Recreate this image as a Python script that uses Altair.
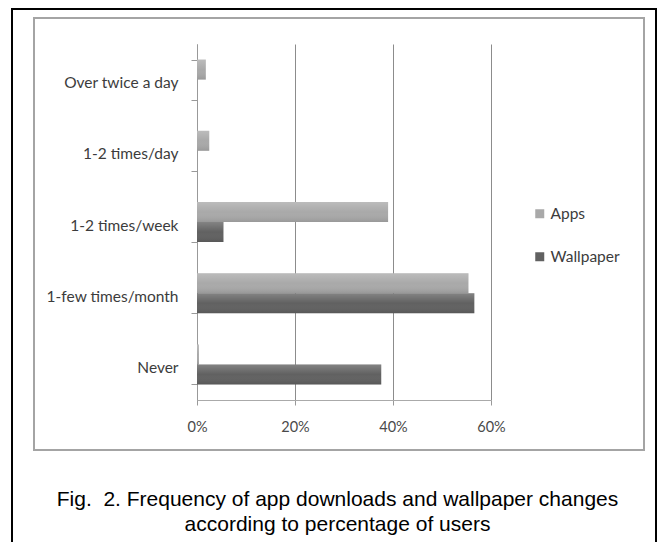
import altair as alt
import pandas as pd

categories = ["Over twice a day", "1-2 times/day", "1-2 times/week", "1-few times/month", "Never"]
series = ["Apps", "Wallpaper"]
apps = [1.8, 2.5, 39.0, 55.4, 0.4]
wallpaper = [0.0, 0.0, 5.4, 56.6, 37.6]
x_ticks = [0, 20, 40, 60]
caption_lines = [
    "Fig.\u00a0 2. Frequency of app downloads and wallpaper changes",
    "according to percentage of users",
]

rows = []
for c, a, w in zip(categories, apps, wallpaper):
    rows.append({"category": c, "series": "Apps", "value": a})
    rows.append({"category": c, "series": "Wallpaper", "value": w})
df = pd.DataFrame(rows)

label_font = "Lato"

x_enc = alt.X(
    "value:Q",
    scale=alt.Scale(domain=[0, 60], nice=False),
    axis=alt.Axis(
        title=None,
        values=x_ticks,
        labelExpr="datum.value + '%'",
        labelFlush=False,
        grid=True,
        gridColor="#8c8c8c",
        gridWidth=1,
        domainColor="#aaaaaa",
        tickColor="#999999",
        tickSize=5,
        labelPadding=15,
        labelFont=label_font,
        labelFontSize=14.5,
        labelColor="#4a4a4a",
    ),
)
y_enc = alt.Y(
    "category:N",
    sort=categories,
    scale=alt.Scale(paddingInner=0.438, paddingOuter=0.219),
    axis=alt.Axis(
        title=None,
        tickBand="extent",
        grid=False,
        domainColor="#999999",
        tickColor="#999999",
        tickSize=6,
        labelPadding=13,
        labelOffset=3,
        labelFont=label_font,
        labelFontSize=15.5,
        labelColor="#3c3c3c",
    ),
)
yoff_enc = alt.YOffset("series:N", sort=series, scale=alt.Scale(paddingInner=0, paddingOuter=0))

bars = alt.Chart(df).mark_bar().encode(
    x=x_enc,
    y=y_enc,
    yOffset=yoff_enc,
    color=alt.Color(
        "series:N",
        sort=series,
        scale=alt.Scale(domain=series, range=["#a9a9a9", "#616161"]),
        legend=alt.Legend(
            title=None,
            orient="none",
            legendX=335,
            legendY=162,
            padding=0,
            symbolType="square",
            symbolSize=81,
            symbolStrokeWidth=0,
            symbolOpacity=1,
            rowPadding=26,
            labelOffset=3,
            labelFont=label_font,
            labelFontSize=15.5,
            labelColor="#3c3c3c",
        ),
    ),
)

shade = alt.Chart(df).mark_bar(
    color=alt.LinearGradient(
        gradient="linear",
        x1=0, x2=0, y1=0, y2=1,
        stops=[
            alt.GradientStop(color="rgba(255,255,255,0.22)", offset=0),
            alt.GradientStop(color="rgba(255,255,255,0.0)", offset=0.5),
            alt.GradientStop(color="rgba(0,0,0,0.10)", offset=1),
        ],
    )
).encode(x="value:Q", y=alt.Y("category:N", sort=categories), yOffset=alt.YOffset("series:N", sort=series))

one = alt.Data(values=[{"k": 1}])

outer = alt.Chart(one).mark_rect(fill="transparent", stroke="black", strokeWidth=2).encode(
    x=alt.value(-185), x2=alt.value(459), y=alt.value(-35), y2=alt.value(520)
)
inner = alt.Chart(one).mark_rect(fill="transparent", stroke="#a4a4a4", strokeWidth=2).encode(
    x=alt.value(-163), x2=alt.value(447), y=alt.value(-26), y2=alt.value(406)
)

caption = alt.Chart(alt.Data(values=[{"caption": "\n".join(caption_lines)}])).mark_text(
    lineBreak="\n",
    lineHeight=25,
    align="center",
    baseline="alphabetic",
    font="Liberation Sans",
    fontSize=21,
    color="black",
).encode(x=alt.value(140.5), y=alt.value(462), text="caption:N")

chart = alt.layer(outer, inner, bars, shade, caption).properties(
    width=294,
    height=356,
    padding={"left": 189, "top": 36, "right": 166, "bottom": 142},
    autosize=alt.AutoSizeParams(type="none"),
    background="white",
).configure_view(strokeWidth=0)

chart.save("out.html", embed_options={"renderer": "svg", "actions": False})
